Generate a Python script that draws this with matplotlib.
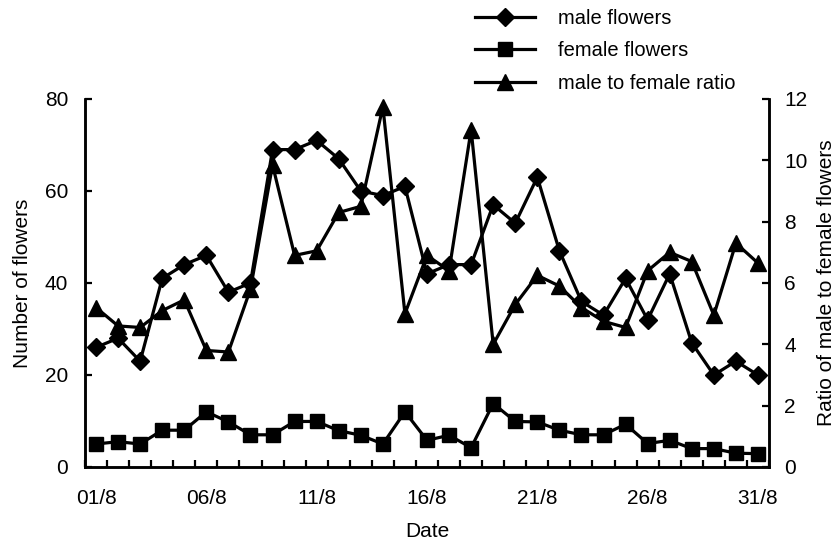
import matplotlib

matplotlib.use("Agg")
import matplotlib.pyplot as plt
import numpy as np

days = list(range(1, 32))
tick_days = [1, 6, 11, 16, 21, 26, 31]
tick_labels = ["01/8", "06/8", "11/8", "16/8", "21/8", "26/8", "31/8"]

male = [26, 28, 23, 41, 44, 46, 38, 40, 69, 69, 71, 67, 60, 59, 61, 42,
        44, 44, 57, 53, 63, 47, 36, 33, 41, 32, 42, 27, 20, 23, 20]
female = [5, 5.5, 5, 8, 8, 12, 9.8, 7, 7, 9.9, 9.9, 7.9, 6.9, 5, 12, 5.8,
          6.9, 4.2, 13.8, 9.9, 9.8, 8, 7, 7, 9.3, 5.1, 5.8, 4, 4, 3, 2.9]
ratio = [5.2, 4.6, 4.55, 5.1, 5.45, 3.8, 3.75, 5.8, 9.85, 6.9, 7.05, 8.3,
         8.5, 11.75, 5.0, 6.9, 6.4, 11.0, 4.0, 5.3, 6.25, 5.9, 5.2, 4.75,
         4.55, 6.4, 7.0, 6.7, 4.95, 7.3, 6.65]

plt.rcParams.update({"font.family": ["Liberation Sans", "DejaVu Sans"],
                     "font.size": 15})

fig = plt.figure(figsize=(8.39, 5.43), dpi=100)
ax = fig.add_axes([85 / 839, 76 / 543, 684 / 839, 368 / 543])
ax2 = ax.twinx()

lw = 2.3
l1, = ax.plot(days, male, "-D", color="black", lw=lw, ms=9.5, label="male flowers")
l2, = ax.plot(days, female, "-s", color="black", lw=lw, ms=10, label="female flowers")
l3, = ax2.plot(days, ratio, "-^", color="black", lw=lw, ms=11,
               label="male to female ratio")

ax.set_xlim(0.5, 31.5)
ax.set_ylim(0, 80)
ax2.set_ylim(0, 12)
ax.set_yticks([0, 20, 40, 60, 80])
ax2.set_yticks([0, 2, 4, 6, 8, 10, 12])

# category boundaries get tick marks, labels sit on the category centres
ax.set_xticks(np.arange(0.5, 32, 1))
ax.set_xticklabels([])
ax.set_xticks(tick_days, minor=True)
ax.set_xticklabels(tick_labels, minor=True)
ax.tick_params(axis="x", which="major", direction="in", length=5, width=1.6)
ax.tick_params(axis="x", which="minor", length=0, pad=16)
ax.tick_params(axis="y", direction="in", length=5, width=1.6, pad=12)
ax2.tick_params(axis="y", direction="in", length=5, width=1.6, pad=11)

for a in (ax, ax2):
    a.spines["top"].set_visible(False)
    for s in ("left", "right", "bottom"):
        a.spines[s].set_linewidth(1.8)

ax.set_xlabel("Date", labelpad=10)
ax.set_ylabel("Number of flowers", labelpad=9)
ax2.set_ylabel("Ratio of male to female flowers", labelpad=7)

fig.legend(handles=[l1, l2, l3], loc="upper left", bbox_to_anchor=(466 / 839, 1.0),
           frameon=False, fontsize=14.5, handlelength=3.0, labelspacing=0.66,
           handletextpad=1.1, borderaxespad=0.05)

fig.savefig("out.png", dpi=100)
